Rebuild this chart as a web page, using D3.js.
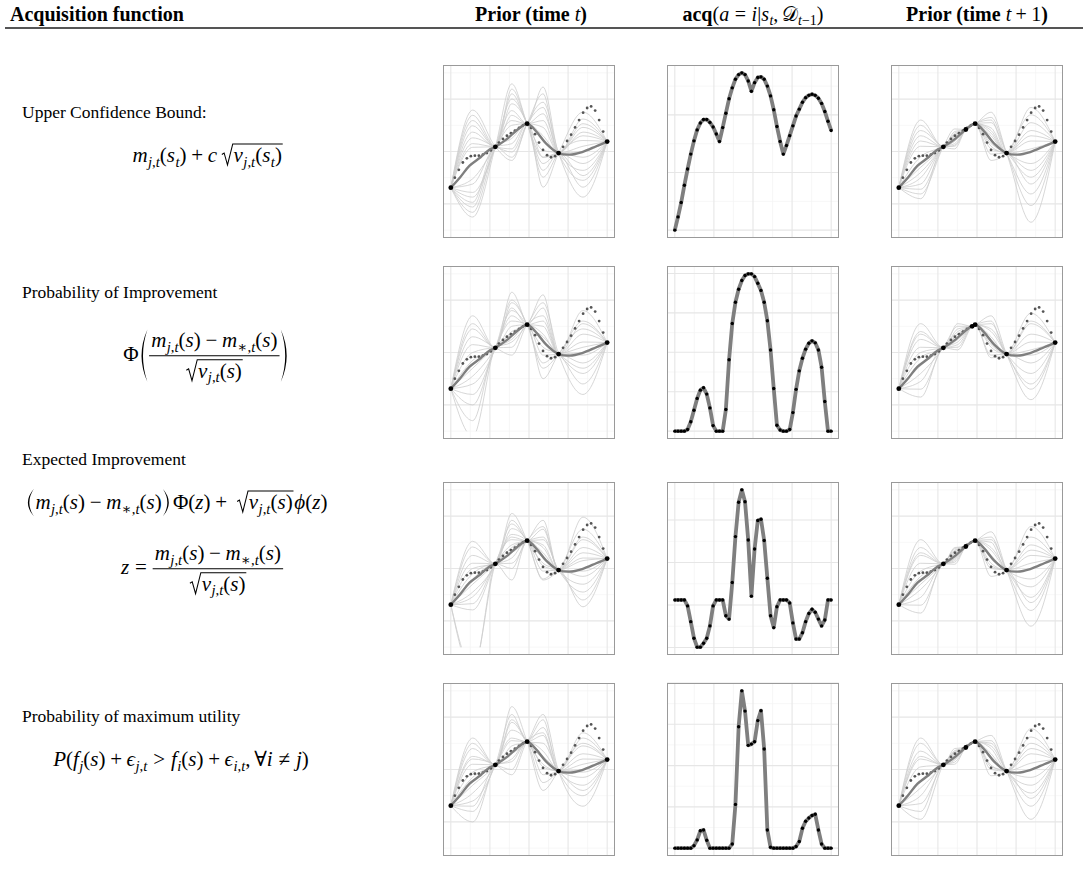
<!DOCTYPE html>
<html>
<head>
<meta charset="utf-8">
<script src="https://cdn.jsdelivr.net/npm/d3@7"></script>
<style>
body { margin: 0; background: #fff; }
text { font-family: "Liberation Serif", "DejaVu Serif", serif; fill: #000; white-space: pre; }
</style>
</head>
<body>
<svg width="1083" height="874"></svg>
<script>
// ---- data ----
var xBreaks = [0, 0.25, 0.5, 0.75, 1];
var priorYBreaks = [-1, 0, 1];
var priorLimits = [-1.5, 1.5];

// observed states at time t (black dots) and the posterior mean
var knotX = [0, 0.285, 0.488, 0.689, 1.0];
var knotY = [-0.69, 0.09, 0.53, -0.03, 0.19];
var meanX = [0, 0.06, 0.12, 0.19, 0.24, 0.285, 0.36, 0.42, 0.488, 0.55, 0.61, 0.689, 0.76, 0.84, 0.93, 1.0];
var meanY = [-0.69, -0.49, -0.27, -0.11, 0.02, 0.09, 0.24, 0.40, 0.53, 0.37, 0.15, -0.03, -0.06, -0.01, 0.10, 0.19];

// true function, 40 evenly spaced states (small dots)
var truthY = [-0.69, -0.50, -0.35, -0.21, -0.13, -0.09, -0.08, -0.08, -0.06, -0.03,
    0.02, 0.09, 0.17, 0.24, 0.30, 0.35, 0.40, 0.45, 0.50, 0.53,
    0.45, 0.33, 0.17, 0.03, -0.07, -0.11, -0.09, -0.03, 0.09, 0.20,
    0.32, 0.46, 0.60, 0.74, 0.83, 0.86, 0.78, 0.60, 0.38, 0.19];

// state picked by each acquisition function (new black dot at t+1)
var newStateX = [0.4286, 0.469, 0.4286, 0.4286];
var newStateY = [0.42, 0.50, 0.42, 0.42];

// sample curves: value at the middle of each gap between observed states
var midT = [0.14, 0.39, 0.59, 0.845];
var ucbPriorT = [
    [0.79, -0.17, 0.94, -0.87], [-1.25, 1.29, -0.11, 0.30], [0.69, 0.05, -0.68, 0.75],
    [-1.16, 0.59, 1.23, -0.55], [0.59, 1.19, -0.23, -0.23], [-1.06, 0.25, 0.46, 0.62],
    [0.49, 1.10, 0.02, -0.68], [-0.97, -0.11, 1.10, 0.53], [0.37, 0.91, -0.49, 0.21],
    [-0.87, 0.78, 0.72, -0.36], [0.26, -0.01, 0.84, 0.46], [-0.78, 1.00, -0.36, -0.46],
    [0.15, 0.69, 0.59, 0.37], [-0.62, 0.15, -0.11, -0.11], [-0.52, 0.50, 0.30, 0.10],
    [0.08, 0.35, 0.20, 0.00]];
var piPriorT = [
    [0.70, 0.95, -0.30, 0.60], [-1.30, 0.20, 0.95, -0.80], [0.45, 1.15, 0.30, -0.40],
    [-1.00, 0.60, -0.50, 0.45], [0.30, -0.05, 0.70, 0.80], [-0.80, 0.80, 0.10, -0.60],
    [0.15, 0.40, 1.10, 0.20], [-0.60, 1.00, -0.20, -0.20], [0.00, 0.10, 0.50, 0.35],
    [-0.45, 0.70, 0.85, -0.05], [-0.30, 0.25, -0.05, 0.10], [0.55, 0.50, 0.20, -0.30],
    [-0.15, 0.85, 0.60, 0.55], [-1.60, 0.35, 0.35, 0.00]];
var eiPriorT = [
    [0.52, 1.05, -0.20, -0.73], [-2.00, 0.30, 0.92, 0.98], [0.41, 0.92, 0.10, -0.60],
    [-1.90, 0.55, 0.75, 0.40], [0.25, 0.76, -0.22, 0.75], [-0.79, 0.60, 0.55, -0.45],
    [0.10, -0.22, 0.40, 0.55], [-0.67, 0.45, 0.60, -0.30], [0.00, 0.20, 0.30, 0.30],
    [-0.54, 0.65, -0.05, -0.15], [-0.10, 0.10, 0.80, 0.15], [-0.45, 0.85, 0.20, 0.60],
    [-0.30, 0.40, 0.05, -0.05], [-0.20, 0.00, 0.45, 0.20]];
var pmuPriorT = [
    [0.60, 1.20, -0.40, 0.50], [-1.00, 0.30, 1.05, -0.70], [0.40, 0.90, 0.20, 0.70],
    [-0.80, 0.60, 0.80, -0.50], [0.25, 0.00, -0.10, 0.30], [-0.60, 1.05, 0.50, -0.30],
    [0.10, 0.45, 0.95, 0.10], [-0.45, 0.75, -0.25, 0.45], [-0.05, 0.20, 0.35, -0.15],
    [-0.30, 0.55, 0.65, 0.20], [0.50, 0.95, 0.10, -0.05], [-0.15, 0.30, 0.05, 0.60],
    [0.20, -0.10, 0.70, 0.00], [-0.70, 0.15, 0.25, -0.40]];

var ucbMidT1 = [0.14, 0.357, 0.458, 0.59, 0.845];
var ucbPriorT1 = [
    [0.60, 0.35, 0.50, 0.75, -1.35], [-0.90, 0.10, 0.46, 0.10, 0.84], [0.50, 0.20, 0.48, 0.65, -1.03],
    [-0.81, 0.43, 0.52, -0.17, 0.70], [0.40, 0.05, 0.47, 0.55, -0.81], [-0.72, 0.30, 0.49, 0.35, 0.55],
    [0.30, 0.25, 0.50, -0.05, -0.62], [-0.62, 0.15, 0.47, 0.45, 0.40], [0.20, 0.38, 0.51, 0.20, -0.49],
    [-0.50, 0.22, 0.48, 0.60, 0.30], [0.10, 0.12, 0.46, 0.05, -0.36], [-0.40, 0.28, 0.50, 0.30, 0.20],
    [-0.10, 0.20, 0.49, 0.15, -0.23], [-0.30, 0.32, 0.48, 0.40, 0.05]];
var piMidT1 = [0.14, 0.377, 0.479, 0.59, 0.845];
var piPriorT1 = [
    [0.55, 0.55, 0.52, 0.70, -0.90], [-0.85, 0.10, 0.51, -0.10, 0.75], [0.40, 0.45, 0.53, 0.55, -0.60],
    [-0.70, 0.20, 0.52, 0.10, 0.55], [0.25, 0.35, 0.51, 0.40, -0.40], [-0.55, 0.05, 0.52, 0.30, 0.35],
    [0.10, 0.30, 0.53, -0.05, -0.20], [-0.40, 0.50, 0.52, 0.60, 0.20], [0.00, 0.15, 0.51, 0.20, 0.60],
    [-0.25, 0.40, 0.52, 0.45, -0.70], [0.35, 0.25, 0.52, 0.15, 0.05], [-0.10, 0.35, 0.51, 0.25, -0.05]];
var eiMidT1 = [0.14, 0.357, 0.458, 0.59, 0.845];
var eiPriorT1 = [
    [0.55, 0.38, 0.50, 0.70, -1.10], [-0.85, 0.08, 0.47, 0.05, 0.80], [0.40, 0.30, 0.49, 0.55, -0.80],
    [-0.70, 0.18, 0.51, -0.15, 0.60], [0.25, 0.40, 0.48, 0.40, -0.55], [-0.55, 0.12, 0.50, 0.25, 0.45],
    [0.10, 0.25, 0.49, 0.60, -0.35], [-0.40, 0.33, 0.47, 0.10, 0.25], [-0.05, 0.15, 0.50, 0.35, -0.20],
    [-0.30, 0.28, 0.49, 0.50, 0.10], [0.30, 0.20, 0.48, 0.00, -0.65], [-0.15, 0.35, 0.50, 0.20, 0.35]];
var pmuMidT1 = [0.14, 0.357, 0.458, 0.59, 0.845];
var pmuPriorT1 = [
    [0.50, 0.36, 0.49, 0.65, -0.95], [-0.80, 0.10, 0.48, 0.00, 0.78], [0.35, 0.28, 0.50, 0.50, -0.70],
    [-0.65, 0.20, 0.51, -0.12, 0.62], [0.20, 0.40, 0.47, 0.45, -0.45], [-0.50, 0.14, 0.50, 0.30, 0.50],
    [0.05, 0.26, 0.49, 0.55, -0.30], [-0.35, 0.32, 0.48, 0.08, 0.30], [0.60, 0.18, 0.50, 0.40, -0.15],
    [-0.20, 0.30, 0.49, 0.20, 0.12], [0.25, 0.22, 0.48, 0.05, -0.55], [-0.95, 0.34, 0.50, 0.25, 0.40]];

// acquisition value for the 50 candidate states
var acqUCB = [0, 0.23, 0.48, 0.78, 1.06, 1.32, 1.55, 1.74, 1.86, 1.92, 1.92, 1.87, 1.79, 1.67, 1.54, 1.78,
    2.03, 2.28, 2.47, 2.62, 2.70, 2.73, 2.70, 2.59, 2.41, 2.56, 2.65, 2.66, 2.62, 2.50, 2.33, 2.09, 1.80,
    1.54, 1.32, 1.47, 1.64, 1.81, 1.98, 2.10, 2.22, 2.30, 2.34, 2.36, 2.34, 2.29, 2.20, 2.06, 1.89, 1.73];
var acqPI = [0, 0, 0, 0, 0.04, 0.24, 0.53, 0.83, 1.04, 1.10, 0.94, 0.59, 0.14, 0, 0, 0, 0.55, 1.81,
    2.73, 3.27, 3.60, 3.82, 3.95, 3.99, 3.99, 3.92, 3.75, 3.57, 3.27, 2.80, 2.06, 1.08, 0.15, 0.03, 0, 0,
    0.04, 0.47, 1.06, 1.53, 1.85, 2.08, 2.23, 2.29, 2.24, 2.06, 1.62, 0.75, 0, 0];
var acqEI = [0.12, 0.12, 0.12, 0.12, -0.02, -0.39, -0.78, -0.99, -0.99, -0.90, -0.78, -0.49, -0.02, 0.12,
    0.12, 0.12, -0.25, -0.33, 0.53, 1.61, 2.42, 2.71, 2.43, 1.53, 0.21, 1.32, 1.99, 2.02, 1.52, 0.63,
    -0.25, -0.53, -0.04, 0.12, 0.12, 0.12, 0.05, -0.42, -0.80, -0.80, -0.65, -0.39, -0.20, -0.10, -0.17,
    -0.33, -0.49, -0.35, 0.12, 0.12];
var acqPMU = [0, 0, 0, 0, 0, 0, 0.06, 0.20, 0.42, 0.44, 0.19, 0, 0, 0, 0, 0, 0, 0, 0.10, 1.06, 2.94,
    3.81, 3.32, 2.49, 2.52, 2.58, 3.09, 3.33, 2.40, 0.44, 0.02, 0, 0, 0, 0, 0, 0, 0, 0.04, 0.16, 0.48,
    0.65, 0.73, 0.79, 0.82, 0.44, 0.10, 0, 0, 0];

var rowLabels = ["Upper Confidence Bound:", "Probability of Improvement", "Expected Improvement",
    "Probability of maximum utility"];

// ---- layout ----
var svg = d3.select("svg");
var PW = 172, PH = 173;
var colX = [443, 667, 891];
var rowY = [65, 266, 482, 683];
var HFS = 20, LFS = 17.5, MFS = 21;

function I(s) { return {t: s, i: 1}; }
function sub() { return {sub: Array.prototype.slice.call(arguments)}; }
function bin(op) { return [{sp: 0.22}, op, {sp: 0.22}]; }
function rel(op) { return [{sp: 0.28}, op, {sp: 0.28}]; }

function typeset(g, items, x, y, fs) {
    for (var k = 0; k < items.length; k++) x = place(g, items[k], x, y, fs);
    return x;
}

function place(g, it, x, y, fs) {
    if (Array.isArray(it)) return typeset(g, it, x, y, fs);
    if (typeof it === "string") it = {t: it};
    if (it.t !== undefined) {
        var el = g.append("text").attr("x", x).attr("y", y)
            .style("font-size", fs + "px")
            .style("font-style", it.i ? "italic" : "normal")
            .style("font-weight", it.b ? "bold" : "normal")
            .text(it.t);
        return x + el.node().getComputedTextLength();
    }
    if (it.sp !== undefined) return x + it.sp * fs;
    if (it.sub) return typeset(g, it.sub, x + 0.02 * fs, y + 0.22 * fs, fs * 0.7);
    if (it.sqrt) {
        var x1 = typeset(g, it.sqrt, x + 0.62 * fs, y, fs);
        var top = y - 0.86 * fs;
        g.append("path")
            .attr("d", "M" + [x + 0.06 * fs, y - 0.36 * fs] + "L" + [x + 0.17 * fs, y - 0.43 * fs] +
                "L" + [x + 0.33 * fs, y + 0.14 * fs] + "L" + [x + 0.58 * fs, top] + "L" + [x1 + 0.04 * fs, top])
            .attr("fill", "none").attr("stroke", "#000").attr("stroke-width", 0.05 * fs);
        return x1 + 0.08 * fs;
    }
    if (it.frac) {
        var bar = y - 0.25 * fs;
        var gn = g.append("g"), gd = g.append("g");
        var wn = typeset(gn, it.frac[0], 0, bar - 0.42 * fs, fs);
        var wd = typeset(gd, it.frac[1], 0, bar + (it.deep ? 1.05 : 0.75) * fs, fs);
        var w = Math.max(wn, wd) + 0.2 * fs;
        gn.attr("transform", "translate(" + (x + (w - wn) / 2) + ",0)");
        gd.attr("transform", "translate(" + (x + (w - wd) / 2) + ",0)");
        g.append("line").attr("x1", x).attr("x2", x + w).attr("y1", bar).attr("y2", bar)
            .attr("stroke", "#000").attr("stroke-width", 0.05 * fs);
        return x + w;
    }
    if (it.wrap) {
        var t = y - it.top * fs, b = y + it.bot * fs;
        paren(g, x, t, b, fs, false);
        var x2 = typeset(g, it.wrap, x + 0.42 * fs, y, fs);
        paren(g, x2 + 0.02 * fs, t, b, fs, true);
        return x2 + 0.44 * fs;
    }
    return x;
}

function paren(g, x, t, b, fs, close) {
    var w = 0.38 * fs, m = (t + b) / 2, th = 0.07 * fs;
    var xe, xm, xc, xi;
    if (!close) {
        xe = x + w - 0.04 * fs; xm = x + 0.06 * fs;
        xc = 2 * xm - xe; xi = xc + 2 * th;
    } else {
        xe = x + 0.04 * fs; xm = x + w - 0.06 * fs;
        xc = 2 * xm - xe; xi = xc - 2 * th;
    }
    g.append("path")
        .attr("d", "M" + [xe, t] + "Q" + [xc, m] + " " + [xe, b] + "Q" + [xi, m] + " " + [xe, t] + "Z")
        .attr("fill", "#000");
}

function centered(items, cx, y, fs) {
    var g = svg.append("g");
    var w = typeset(g, items, 0, y, fs);
    g.attr("transform", "translate(" + (cx - w / 2) + ",0)");
}

// ---- header ----
typeset(svg, [{t: "Acquisition function", b: 1}], 10, 21, HFS);
centered([{t: "Prior (time", b: 1}, {sp: 0.25}, I("t"), {t: ")", b: 1}], colX[0] + PW / 2 + 2, 21, HFS);
centered([{t: "acq", b: 1}, "(", I("a"), rel("="), I("i"), "|", I("s"), sub(I("t")), ",", {sp: 0.17},
    "𝒟", sub(I("t"), "−1"), ")"], colX[1] + PW / 2, 21, HFS);
centered([{t: "Prior (time", b: 1}, {sp: 0.25}, I("t"), bin("+"), "1", {t: ")", b: 1}], colX[2] + PW / 2, 21, HFS);
svg.append("line").attr("x1", 5).attr("x2", 1083).attr("y1", 28).attr("y2", 28)
    .attr("stroke", "#555").attr("stroke-width", 1.8);

// ---- row labels and formulas ----
var labelY = [118, 298, 465, 722];
rowLabels.forEach(function (s, r) { typeset(svg, [s], 22, labelY[r], LFS); });

var jt = sub(I("j"), ",", I("t"));
var imp = [I("m"), jt, "(", I("s"), ")", bin("−"), I("m"), sub("∗", ",", I("t")), "(", I("s"), ")"];
var rootV = {sqrt: [I("v"), jt, "(", I("s"), ")"]};

centered([I("m"), jt, "(", I("s"), sub(I("t")), ")", bin("+"), I("c"), {sp: 0.17},
    {sqrt: [I("v"), jt, "(", I("s"), sub(I("t")), ")"]}], 208, 162, MFS);
centered(["Φ", {sp: 0.08}, {wrap: [{frac: [imp, [rootV]], deep: 1}], top: 1.5, bot: 1.0}], 206, 361, MFS);
centered([{wrap: [imp], top: 0.95, bot: 0.35}, {sp: 0.1}, "Φ(", I("z"), ")", bin("+"), {sp: 0.2},
    rootV, I("ϕ"), "(", I("z"), ")"], 177, 509, MFS);
centered([I("z"), rel("="), {frac: [imp, [rootV]], deep: 1}], 202, 574, MFS);
centered([I("P"), "(", I("f"), sub(I("j")), "(", I("s"), ")", bin("+"), I("ϵ"), sub(I("j"), ",", I("t")),
    rel(">"), I("f"), sub(I("i")), "(", I("s"), ")", bin("+"), I("ϵ"), sub(I("i"), ",", I("t")), ",",
    {sp: 0.17}, "∀", I("i"), rel("≠"), I("j"), ")"], 181, 766, MFS);

// ---- panels ----
function minors(br, dom) {
    var s = br[1] - br[0], out = [];
    for (var v = br[0] - s / 2; v <= dom[1] + 1e-9; v += s) if (v >= dom[0]) out.push(v);
    return out;
}

function panel(c, r) {
    var g = svg.append("g").attr("transform", "translate(" + colX[c] + "," + rowY[r] + ")");
    g.append("rect").attr("width", PW).attr("height", PH).attr("fill", "#fff");
    return g;
}

function drawGrid(g, x, y, xb, yb) {
    var gg = g.append("g");
    gg.selectAll(".vm").data(minors(xb, x.domain())).enter().append("line")
        .attr("x1", x).attr("x2", x).attr("y1", 0).attr("y2", PH)
        .attr("stroke", "#f3f3f3").attr("stroke-width", 0.7);
    gg.selectAll(".hm").data(minors(yb, y.domain())).enter().append("line")
        .attr("y1", y).attr("y2", y).attr("x1", 0).attr("x2", PW)
        .attr("stroke", "#f3f3f3").attr("stroke-width", 0.7);
    gg.selectAll(".vM").data(xb).enter().append("line")
        .attr("x1", x).attr("x2", x).attr("y1", 0).attr("y2", PH)
        .attr("stroke", "#e6e6e6").attr("stroke-width", 1.1);
    gg.selectAll(".hM").data(yb).enter().append("line")
        .attr("y1", y).attr("y2", y).attr("x1", 0).attr("x2", PW)
        .attr("stroke", "#e6e6e6").attr("stroke-width", 1.1);
}

function border(g) {
    g.append("rect").attr("x", 0.5).attr("y", 0.5).attr("width", PW - 1).attr("height", PH - 1)
        .attr("fill", "none").attr("stroke", "#9a9a9a").attr("stroke-width", 1);
}

function drawPrior(g, id, kx, ky, mids, samples) {
    var x = d3.scaleLinear().domain([-0.05, 1.05]).range([0, PW]);
    var y = d3.scaleLinear().domain([-1.65, 1.65]).range([PH, 0]);
    drawGrid(g, x, y, xBreaks, priorYBreaks);

    g.append("clipPath").attr("id", id).append("rect")
        .attr("x", 0).attr("width", PW)
        .attr("y", y(priorLimits[1])).attr("height", y(priorLimits[0]) - y(priorLimits[1]));

    var sampleLine = d3.line().x(function (d) { return x(d[0]); }).y(function (d) { return y(d[1]); })
        .curve(d3.curveMonotoneX);
    var curves = samples.map(function (s) {
        var pts = kx.map(function (k, i) { return [k, ky[i]]; })
            .concat(mids.map(function (m, j) { return [m, s[j]]; }));
        return pts.sort(function (a, b) { return a[0] - b[0]; });
    });
    g.append("g").attr("clip-path", "url(#" + id + ")")
        .selectAll("path").data(curves).enter().append("path")
        .attr("d", sampleLine).attr("fill", "none").attr("stroke", "#cdcdcd").attr("stroke-width", 0.8);

    g.append("g").selectAll("circle").data(truthY).enter().append("circle")
        .attr("cx", function (d, k) { return x(k / (truthY.length - 1)); })
        .attr("cy", function (d) { return y(d); })
        .attr("r", 1.4).attr("fill", "#555");

    var meanLine = d3.line().x(function (d) { return x(d[0]); }).y(function (d) { return y(d[1]); })
        .curve(d3.curveCatmullRom);
    g.append("path").datum(d3.zip(meanX, meanY)).attr("d", meanLine)
        .attr("fill", "none").attr("stroke", "#7f7f7f").attr("stroke-width", 2.4);

    g.append("g").selectAll("circle").data(d3.zip(kx, ky)).enter().append("circle")
        .attr("cx", function (d) { return x(d[0]); }).attr("cy", function (d) { return y(d[1]); })
        .attr("r", 2.4).attr("fill", "#000");
    border(g);
}

function drawAcq(g, vals) {
    var x = d3.scaleLinear().domain([-0.05, 1.05]).range([0, PW]);
    var ext = d3.extent(vals), pad = (ext[1] - ext[0]) * 0.05;
    var y = d3.scaleLinear().domain([ext[0] - pad, ext[1] + pad]).range([PH, 0]);
    var yb = d3.range(Math.ceil(ext[0] - pad), Math.floor(ext[1] + pad) + 1);
    drawGrid(g, x, y, xBreaks, yb);
    var pts = vals.map(function (v, i) { return [i / (vals.length - 1), v]; });
    var line = d3.line().x(function (d) { return x(d[0]); }).y(function (d) { return y(d[1]); });
    g.append("path").datum(pts).attr("d", line)
        .attr("fill", "none").attr("stroke", "#7f7f7f").attr("stroke-width", 3.8)
        .attr("stroke-linejoin", "round");
    g.append("g").selectAll("circle").data(pts).enter().append("circle")
        .attr("cx", function (d) { return x(d[0]); }).attr("cy", function (d) { return y(d[1]); })
        .attr("r", 1.7).attr("fill", "#000");
    border(g);
}

var acqSeries = [acqUCB, acqPI, acqEI, acqPMU];
var priorT = [ucbPriorT, piPriorT, eiPriorT, pmuPriorT];
var priorT1 = [ucbPriorT1, piPriorT1, eiPriorT1, pmuPriorT1];
var midT1 = [ucbMidT1, piMidT1, eiMidT1, pmuMidT1];

for (var r = 0; r < 4; r++) {
    drawPrior(panel(0, r), "clipA" + r, knotX, knotY, midT, priorT[r]);
    drawAcq(panel(1, r), acqSeries[r]);
    var kx = knotX.concat([newStateX[r]]), ky = knotY.concat([newStateY[r]]);
    drawPrior(panel(2, r), "clipB" + r, kx, ky, midT1[r], priorT1[r]);
}
</script>
</body>
</html>
